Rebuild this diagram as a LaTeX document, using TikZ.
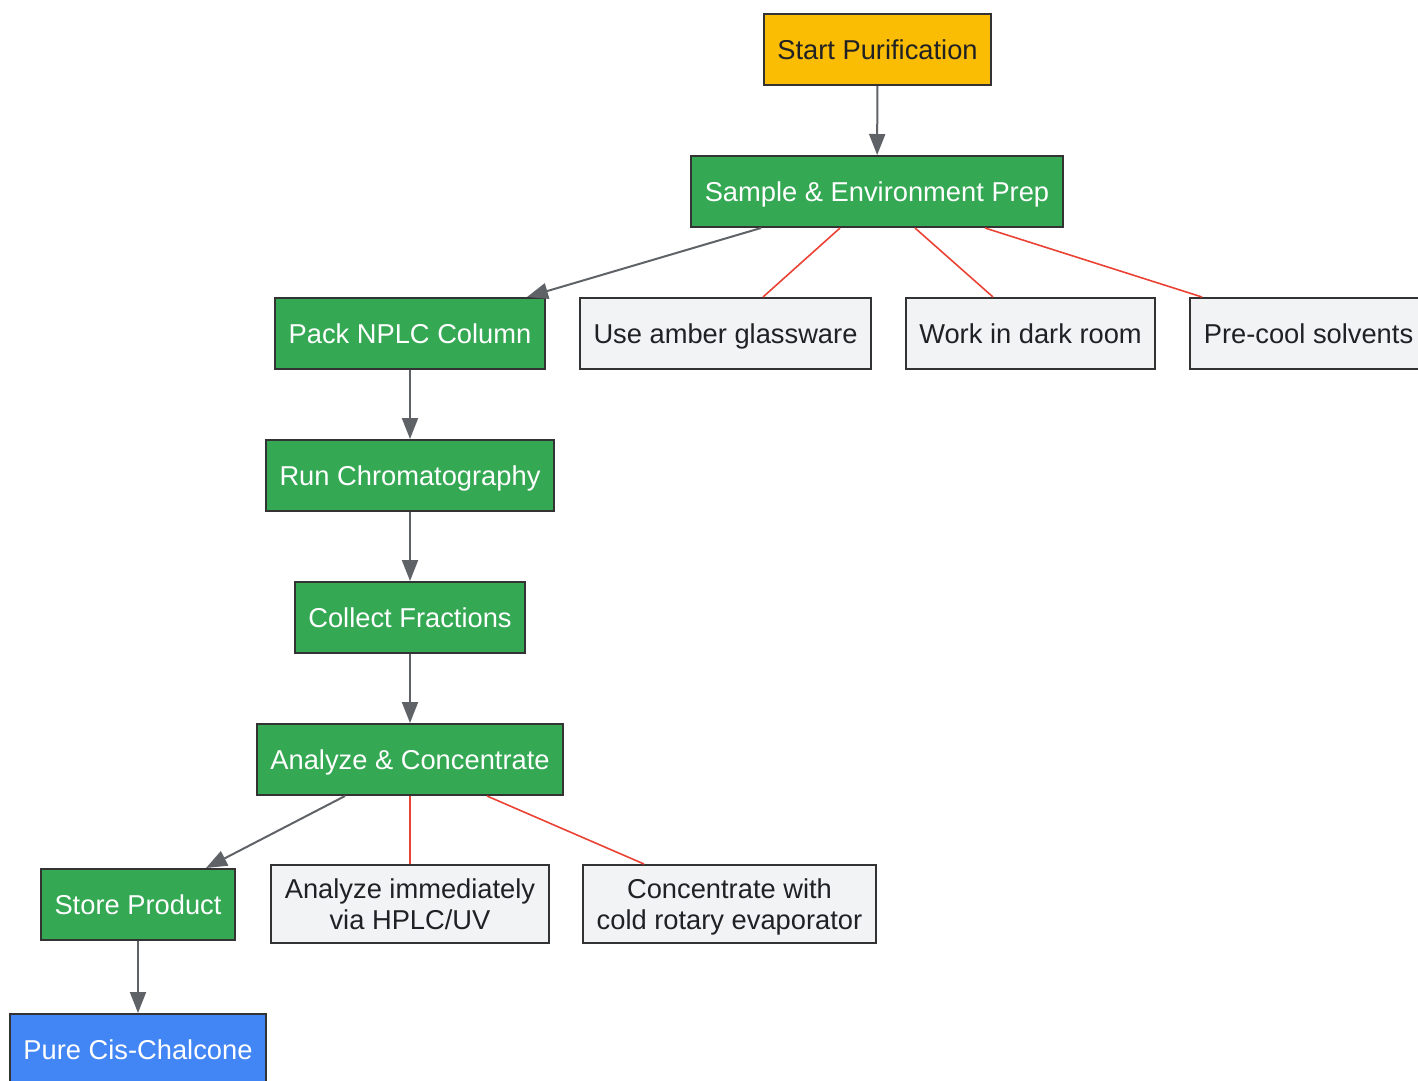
\documentclass[tikz,border=0pt]{standalone}
\usepackage{fontspec}
\setmainfont{Liberation Sans}
\usetikzlibrary{arrows.meta,calc}
\definecolor{gyellow}{HTML}{FBBC04}
\definecolor{ggreen}{HTML}{34A853}
\definecolor{gblue}{HTML}{4285F4}
\definecolor{glight}{HTML}{F1F3F4}
\definecolor{gtext}{HTML}{202124}
\definecolor{gedge}{HTML}{5F6368}
\definecolor{gred}{HTML}{EA4335}
\definecolor{gborder}{HTML}{333333}
\tikzset{
  box/.style={draw=gborder, line width=2pt, rectangle, inner xsep=13.5pt, inner ysep=0pt,
    minimum height=71pt, align=center, text height=19.5pt, text depth=0pt,
    font=\fontsize{27.3}{31}\selectfont},
  twoline/.style={minimum height=78pt, text height=50.5pt, text depth=0pt},
  startbox/.style={box, fill=gyellow, text=gtext},
  stepbox/.style={box, fill=ggreen, text=white},
  notebox/.style={box, fill=glight, text=gtext},
  endbox/.style={box, fill=gblue, text=white},
  arr/.style={draw=gedge, line width=2pt, -{Triangle[length=21pt,width=16pt]}},
  redline/.style={draw=gred, line width=1.6pt},
}
\begin{document}
\begin{tikzpicture}[x=1pt,y=-1pt]
\useasboundingbox (0,0) rectangle (1418,1080);
\clip (0,0) rectangle (1418,1080);
\node[startbox] (start) at (877.5,49.5) {Start Purification};
\node[stepbox] (sample) at (877,191.5) {Sample \& Environment Prep};
\node[stepbox] (pack) at (410,333.5) {Pack NPLC Column};
\node[notebox] (amber) at (725.5,333.5) {Use amber glassware};
\node[notebox] (dark) at (1030.5,333.5) {Work in dark room};
\node[notebox] (cool) at (1308.5,333.5) {Pre-cool solvents};
\node[stepbox] (run) at (410,475.5) {Run Chromatography};
\node[stepbox] (collect) at (410,617.5) {Collect Fractions};
\node[stepbox] (analyze) at (410,759.5) {Analyze \& Concentrate};
\node[stepbox] (store) at (138,904.5) {Store Product};
\node[notebox, twoline] (hplc) at (410,904) {Analyze immediately\\via HPLC/UV};
\node[notebox, twoline] (rotary) at (729.5,904) {Concentrate with\\cold rotary evaporator};
\node[endbox] (pure) at (138,1049.5) {Pure Cis-Chalcone};

\draw[arr] (start) -- (sample);
\draw[arr] ([xshift=-116pt]sample.south) -- ([xshift=117pt]pack.north);
\draw[redline] ([xshift=-37pt]sample.south) -- ([xshift=37.5pt]amber.north);
\draw[redline] ([xshift=38pt]sample.south) -- ([xshift=-37.5pt]dark.north);
\draw[redline] ([xshift=108pt]sample.south) -- ([xshift=-106.5pt]cool.north);
\draw[arr] (pack) -- (run);
\draw[arr] (run) -- (collect);
\draw[arr] (collect) -- (analyze);
\draw[arr] ([xshift=-65pt]analyze.south) -- ([xshift=68pt]store.north);
\draw[redline] (analyze.south) -- (hplc.north);
\draw[redline] ([xshift=77pt]analyze.south) -- ([xshift=-85.5pt]rotary.north);
\draw[arr] (store) -- (pure);
\end{tikzpicture}
\end{document}
